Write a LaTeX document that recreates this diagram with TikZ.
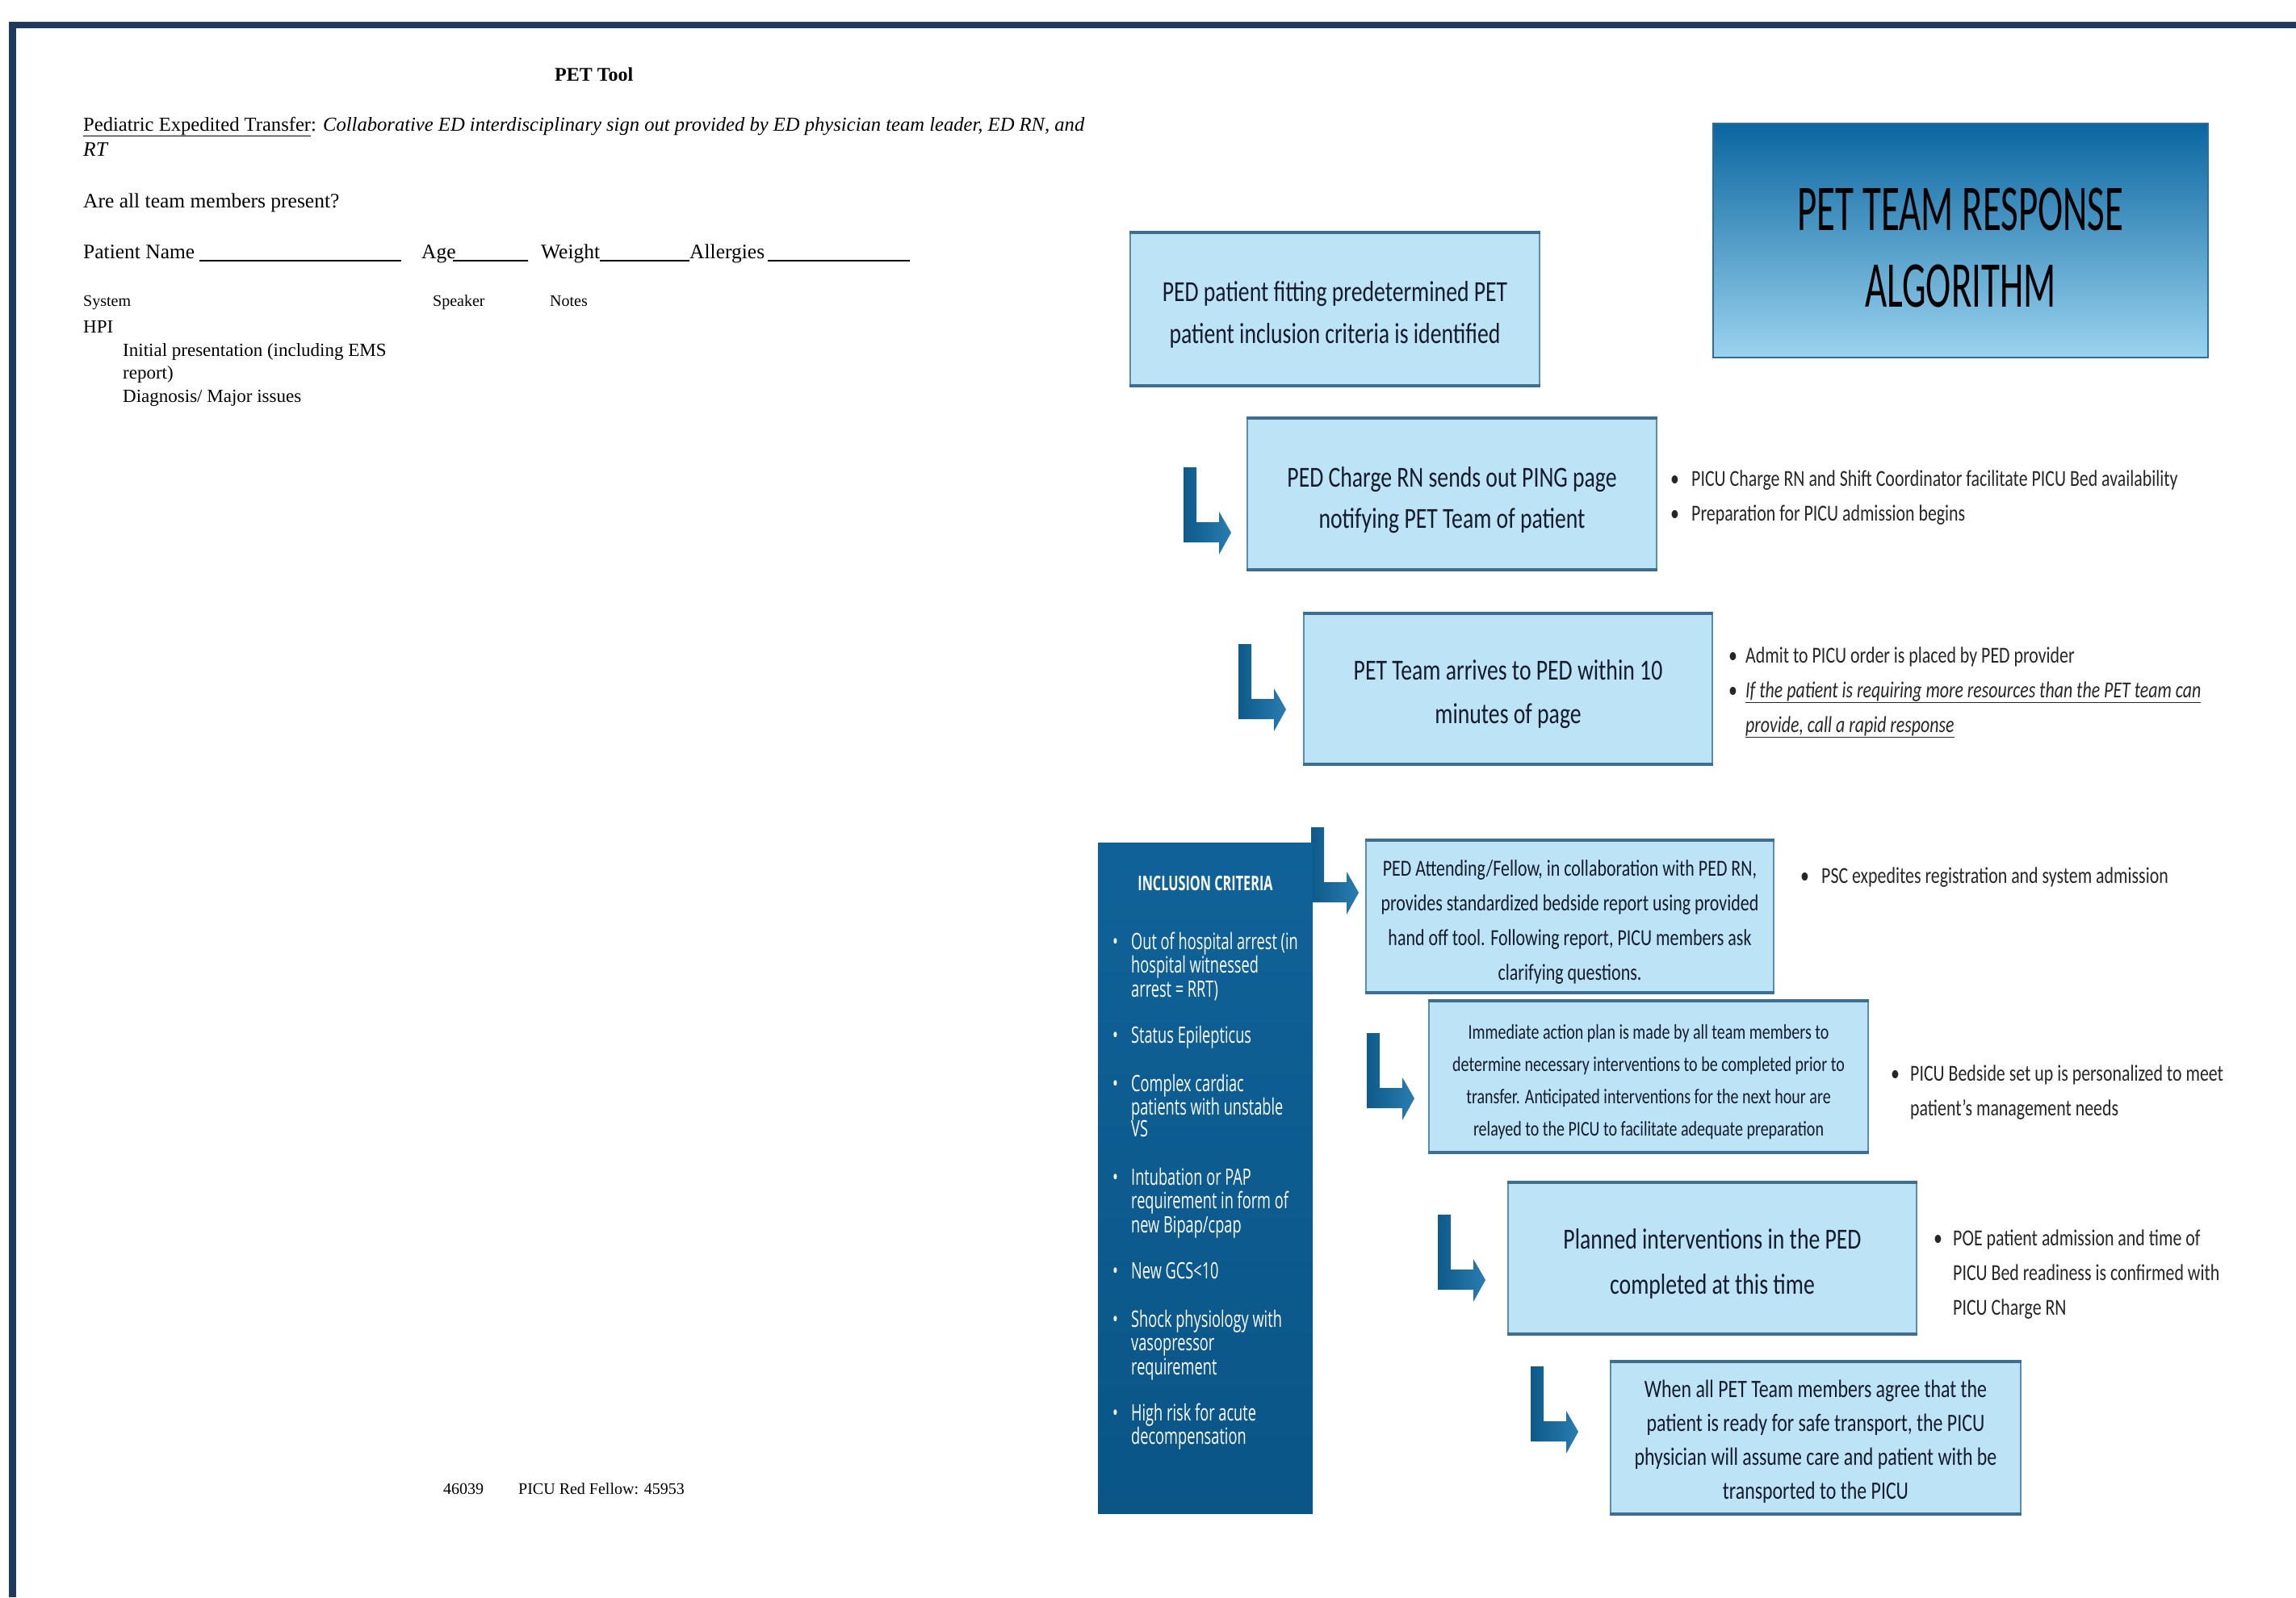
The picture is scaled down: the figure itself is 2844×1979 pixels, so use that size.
\documentclass[tikz,border=0pt]{standalone}
\usepackage{fontspec}
\setmainfont{Liberation Serif}
\newfontfamily\calf[FakeStretch=0.77]{Carlito}
\newfontfamily\ttlf[FakeStretch=0.58]{Carlito}
\newfontfamily\osf[FakeStretch=0.65]{Open Sans}
\definecolor{navy}{HTML}{1F3A5F}
\definecolor{boxfill}{HTML}{BDE3F7}
\definecolor{boxedge}{HTML}{5A8DB2}
\definecolor{boxedgedark}{HTML}{3E6F93}
\definecolor{arrowdark}{HTML}{0E5A8A}
\definecolor{arrowlight}{HTML}{2A7CB0}
\definecolor{incltop}{HTML}{0F6298}
\definecolor{inclbot}{HTML}{0B5587}
\definecolor{titletop}{HTML}{0A66A0}
\definecolor{titlebot}{HTML}{9BD3EF}
\definecolor{titleedge}{HTML}{2E6E98}
\definecolor{bodytext}{HTML}{141B2B}
\definecolor{bullettext}{HTML}{262626}
\newcommand\bulA[1]{\makebox[#1][l]{\textbullet}}
\tikzset{
  bentarrow/.pic={
    \shade[left color=arrowdark, right color=arrowlight]
      (0,0) -- (16,0) -- (16,68) -- (44,68) -- (44,55) -- (59,81)
      -- (44,108) -- (44,93) -- (0,93) -- cycle;
  }
}
\begin{document}
\begin{tikzpicture}[x=1pt,y=-1pt,
  flowbox/.style={draw=boxedge, line width=2pt, fill=boxfill, inner sep=0pt},
  boxtext/.style={inner sep=0pt, align=center, text=bodytext},
  edgeline/.style={draw=boxedgedark, line width=3.5pt},
  bullets/.style={anchor=west, inner sep=0pt, align=left, text=bullettext,
    font=\calf\fontsize{28.4}{43}\selectfont},
  lefttext/.style={anchor=base west, inner sep=0pt, font=\fontsize{25.5}{31}\selectfont},
  smalltext/.style={anchor=base west, inner sep=0pt, font=\fontsize{20}{24}\selectfont},
  hpitext/.style={anchor=base west, inner sep=0pt, font=\fontsize{23}{28}\selectfont},
  incl/.style={anchor=base west, inner sep=0pt, text=white, font=\osf\fontsize{28}{29}\selectfont},
  blank/.style={line width=1.5pt, black}
]
\useasboundingbox (0,0) rectangle (2844,1979);
\fill[white] (0,0) rectangle (2844,1979);
% page frame
\fill[navy] (11,27) rectangle (2844,35);
\fill[navy] (11,27) rectangle (20,1979);

% ---------- left form ----------
\node[lefttext, font=\bfseries\fontsize{24}{28}\selectfont] (pettool) at (687,100) {PET Tool};
\node[lefttext, font=\fontsize{24.6}{31}\selectfont] (intro) at (103,162) {\underline{Pediatric Expedited Transfer}: \textit{Collaborative ED interdisciplinary sign out provided by ED physician team leader, ED RN, and}};
\node[lefttext] (rt) at (103,193) {\textit{RT}};
\node[lefttext] (present) at (103,257) {Are all team members present?};
\node[lefttext] (pname) at (103,320) {Patient Name};
\node[lefttext] (age) at (522,320) {Age};
\node[lefttext] (weight) at (670,320) {Weight};
\node[lefttext] (allerg) at (854,320) {Allergies};
\draw[blank] (247,323) -- (497,323);
\draw[blank] (561,323) -- (654,323);
\draw[blank] (743,323) -- (854,323);
\draw[blank] (951,323) -- (1127,323);
\node[smalltext] (system) at (103,379) {System};
\node[smalltext] (speaker) at (536,379) {Speaker};
\node[smalltext] (notes) at (681,379) {Notes};
\node[hpitext] (hpi) at (103,412) {HPI};
\node[hpitext] (initp) at (152,441) {Initial presentation (including EMS};
\node[hpitext] (report) at (152,469) {report)};
\node[hpitext] (diag) at (152,498) {Diagnosis/ Major issues};
\node[smalltext] (num1) at (549,1851) {46039};
\node[smalltext] (num2) at (642,1851) {PICU Red Fellow: 45953};

% ---------- title ----------
\node[draw=titleedge, line width=1.5pt, top color=titletop, bottom color=titlebot,
  minimum width=613pt, minimum height=290pt, inner sep=0pt] (ttl) at (2428.5,298) {};
\node[boxtext, text=black, font=\ttlf\fontsize{81}{95}\selectfont] (ttltext)
  at ([yshift=-9pt]ttl.center) {PET TEAM RESPONSE\\ALGORITHM};

% ---------- arrows ----------
\pic (a1) at (1466,579) {bentarrow};
\pic (a2) at (1534,798) {bentarrow};
\pic (a3) at (1624,1025) {bentarrow};
\pic (a4) at (1693,1280) {bentarrow};
\pic (a5) at (1781,1505) {bentarrow};
\pic (a6) at (1896,1693) {bentarrow};

% ---------- flow boxes ----------
\node[flowbox, minimum width=507pt, minimum height=188pt] (b1) at (1653.5,383) {};
\node[flowbox, minimum width=507pt, minimum height=186pt] (b2) at (1798.5,612) {};
\node[flowbox, minimum width=506pt, minimum height=185pt] (b3) at (1868,853.5) {};
\node[flowbox, minimum width=505pt, minimum height=187pt] (b4) at (1944.5,1135.5) {};
\node[flowbox, minimum width=544pt, minimum height=186pt] (b5) at (2042,1334) {};
\node[flowbox, minimum width=506pt, minimum height=186pt] (b6) at (2121,1559) {};
\node[flowbox, minimum width=508pt, minimum height=187pt] (b7) at (2249,1781.5) {};
\foreach \b in {b1,b2,b3,b4,b5,b6,b7} {
  \draw[edgeline] (\b.north west) -- (\b.north east);
  \draw[edgeline] (\b.south west) -- (\b.south east);
}
\node[boxtext, font=\calf\fontsize{36}{52}\selectfont] (t1) at ([yshift=-7pt]b1.center)
  {PED patient fitting predetermined PET\\patient inclusion criteria is identified};
\node[boxtext, font=\calf\fontsize{36}{51}\selectfont] (t2) at ([yshift=-8pt]b2.center)
  {PED Charge RN sends out PING page\\notifying PET Team of patient};
\node[boxtext, font=\calf\fontsize{36}{54}\selectfont] (t3) at ([yshift=-7pt]b3.center)
  {PET Team arrives to PED within 10\\minutes of page};
\node[boxtext, font=\calf\fontsize{28.5}{43}\selectfont] (t4) at ([yshift=-7pt]b4.center)
  {PED Attending/Fellow, in collaboration with PED RN,\\provides standardized bedside report using provided\\hand off tool. Following report, PICU members ask\\clarifying questions.};
\node[boxtext, font=\calf\fontsize{26}{40}\selectfont] (t5) at ([yshift=-7pt]b5.center)
  {Immediate action plan is made by all team members to\\determine necessary interventions to be completed prior to\\transfer. Anticipated interventions for the next hour are\\relayed to the PICU to facilitate adequate preparation};
\node[boxtext, font=\calf\fontsize{36}{56}\selectfont] (t6) at ([yshift=-7pt]b6.center)
  {Planned interventions in the PED\\completed at this time};
\node[boxtext, font=\calf\fontsize{31}{42}\selectfont] (t7) at ([yshift=-5pt]b7.center)
  {When all PET Team members agree that the\\patient is ready for safe transport, the PICU\\physician will assume care and patient with be\\transported to the PICU};

% ---------- bullet notes ----------
\node[bullets] (n2) at (2069,616.5)
  {\bulA{26pt}PICU Charge RN and Shift Coordinator facilitate PICU Bed availability\\
   \bulA{26pt}Preparation for PICU admission begins};
\node[bullets] (n3) at (2141,857.5)
  {\bulA{21pt}Admit to PICU order is placed by PED provider\\
   \bulA{21pt}\underline{\textit{If the patient is requiring more resources than the PET team can}}\\
   \hspace*{21pt}\underline{\textit{provide, call a rapid response}}};
\node[bullets] (n4) at (2230,1087)
  {\bulA{26pt}PSC expedites registration and system admission};
\node[bullets] (n5) at (2342,1353.5)
  {\bulA{24pt}PICU Bedside set up is personalized to meet\\
   \hspace*{24pt}patient’s management needs};
\node[bullets] (n6) at (2395,1579)
  {\bulA{24pt}POE patient admission and time of\\
   \hspace*{24pt}PICU Bed readiness is confirmed with\\
   \hspace*{24pt}PICU Charge RN};

% ---------- inclusion criteria ----------
\node[top color=incltop, bottom color=inclbot, minimum width=266pt, minimum height=831pt,
  inner sep=0pt] (inc) at (1493,1459.5) {};
\node[anchor=base, inner sep=0pt, text=white, font=\osf\bfseries\fontsize{25}{29}\selectfont]
  (inchead) at (1493,1103) {INCLUSION CRITERIA};
\node[incl] (i1) at (1378,1176) {\bulA{23pt}Out of hospital arrest (in};
\node[incl] (i2) at (1401,1205) {hospital witnessed};
\node[incl] (i3) at (1401,1235) {arrest = RRT)};
\node[incl] (i4) at (1378,1292) {\bulA{23pt}Status Epilepticus};
\node[incl] (i5) at (1378,1352) {\bulA{23pt}Complex cardiac};
\node[incl] (i6) at (1401,1381) {patients with unstable};
\node[incl] (i7) at (1401,1408) {VS};
\node[incl] (i8) at (1378,1468) {\bulA{23pt}Intubation or PAP};
\node[incl] (i9) at (1401,1497) {requirement in form of};
\node[incl] (i10) at (1401,1527) {new Bipap/cpap};
\node[incl] (i11) at (1378,1584) {\bulA{23pt}New GCS<10};
\node[incl] (i12) at (1378,1644) {\bulA{23pt}Shock physiology with};
\node[incl] (i13) at (1401,1673) {vasopressor};
\node[incl] (i14) at (1401,1703) {requirement};
\node[incl] (i15) at (1378,1760) {\bulA{23pt}High risk for acute};
\node[incl] (i16) at (1401,1789) {decompensation};
\end{tikzpicture}
\end{document}
